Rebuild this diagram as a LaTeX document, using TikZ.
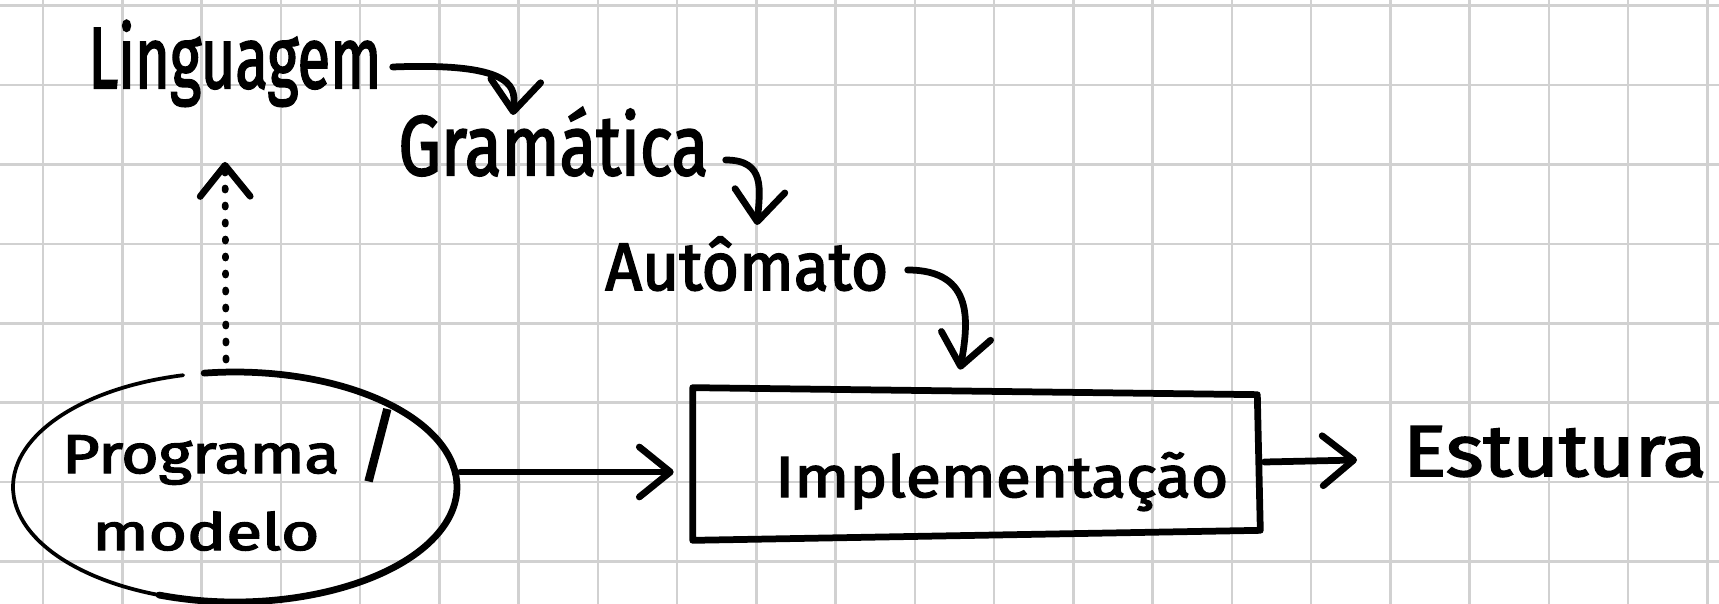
\documentclass[tikz,border=0pt]{standalone}
\usepackage{fontspec}
\setmainfont{Fira Sans}
\newfontfamily\hand{Fira Sans}[FakeBold=2.5]
\usetikzlibrary{arrows.meta,shapes.geometric,calc}

% hand-lettered label: fixed width, own vertical stretch, marker weight
\newcommand\hw[3]{\resizebox{#1}{!}{\scalebox{1}[#2]{\hand #3}}}

\begin{document}
\begin{tikzpicture}[x=0.02cm,y=0.02cm,
  ink/.style={draw=black,line width=0.135cm,line cap=round,line join=round},
  thinink/.style={draw=black,line width=0.075cm,line cap=round},
  arr/.style={ink,-{Straight Barb[length=0.62cm,width=1.0cm,round]}},
  dotarr/.style={arr,dash pattern=on 0.04cm off 0.3cm},
  lbl/.style={inner sep=0pt,anchor=base west},
  gridline/.style={draw=black!18,line width=0.05cm}]

% paper and grid
\fill[white] (0,0) rectangle (1719,-604);
\useasboundingbox (0,0) rectangle (1719,-604);
\foreach \k in {0,...,21} \draw[gridline] ({43+79.25*\k},0) -- ({43+79.25*\k},-604);
\foreach \j in {0,...,7} \draw[gridline] (0,{-5.7-79.4*\j}) -- (1719,{-5.7-79.4*\j});

% labels
\node[lbl] (ling) at (88,-88)   {\hw{5.86cm}{1.45}{Linguagem}};
\node[lbl] (gram) at (398,-175) {\hw{6.20cm}{1.25}{Gramática}};
\node[lbl] (auto) at (605,-290) {\hw{5.66cm}{1.05}{Autômato}};
\node[lbl] (est)  at (1403,-476) {\hw{6.06cm}{0.9}{Estutura}};

% Programa / modelo ellipse
\node[ellipse,minimum width=8.88cm,minimum height=4.6cm,inner sep=0pt] (prog) at (235,-487) {};
\node[lbl] (progA) at (62,-473)
  {\hw{5.54cm}{0.85}{Programa}\hspace{0.36cm}\resizebox*{!}{1.44cm}{\hand /}};
\node[lbl] (progB) at (92,-550) {\hw{4.54cm}{0.78}{modelo}};
\draw[thinink] ([shift={(103.5:4.44cm and 2.3cm)}]prog.center)
  arc[start angle=103.5,end angle=255,x radius=4.44cm,y radius=2.3cm];
\draw[ink] ([shift={(250:4.44cm and 2.3cm)}]prog.center)
  arc[start angle=250,end angle=458,x radius=4.44cm,y radius=2.3cm];

% Implementacao box
\node[minimum width=11.32cm,minimum height=3.04cm,inner sep=0pt] (impl) at (976,-464) {};
\draw[ink] (impl.north west) -- ([shift={(-2,-7)}]impl.north east)
  -- ([shift={(1,10)}]impl.south east) -- (impl.south west) -- cycle;
\node[lbl] (implT) at (775,-497) {\hw{9.06cm}{0.9}{Implementação}};

% connectors
\draw[arr] ([shift={(11,21)}]ling.base east)
  .. controls ++(128,5) and ++(2,25) .. ([shift={(115,60)}]gram.base west);
\draw[arr] ([shift={(17,15)}]gram.base east)
  .. controls ++(40,0) and ++(3,35) .. ([shift={(152,65)}]auto.base west);
\draw[arr] ([shift={(19,20)}]auto.base east)
  .. controls ++(68,0) and ++(8,45) .. ([shift={(-16,18)}]impl.north);
\draw[arr] ([shift={(3,15)}]prog.east) -- ([shift={(-19,-8)}]impl.west);
\draw[arr] ([shift={(5,2)}]impl.east) -- ([shift={(-46,16)}]est.base west);
\draw[dotarr] ([shift={(-9,127)}]prog.center) -- ([shift={(137,-74)}]ling.base west);

\end{tikzpicture}
\end{document}
